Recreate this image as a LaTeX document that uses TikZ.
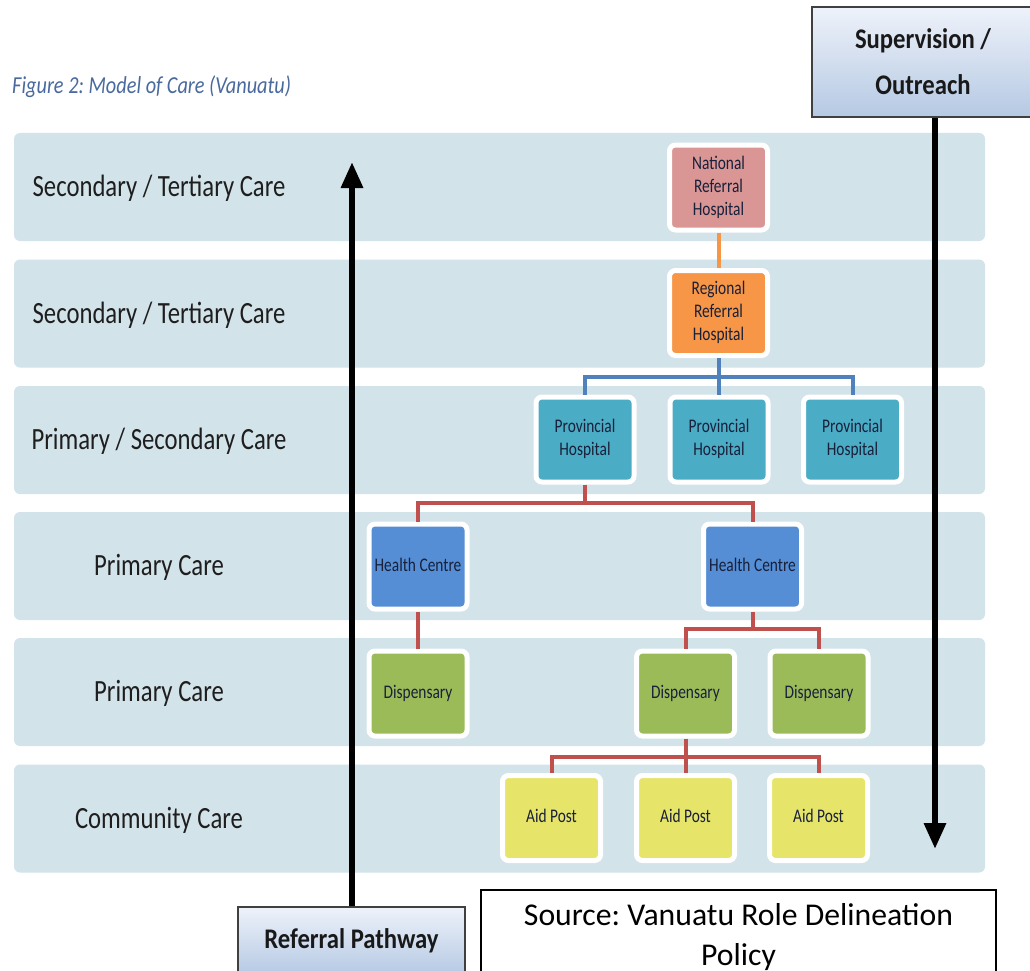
\documentclass[tikz,border=0pt]{standalone}
\usepackage{fontspec}
\setmainfont{Carlito}
\usetikzlibrary{arrows.meta}
\definecolor{bandc}{HTML}{D2E3EA}
\definecolor{natc}{HTML}{D99694}
\definecolor{regc}{HTML}{F79646}
\definecolor{provc}{HTML}{4BACC6}
\definecolor{hcc}{HTML}{558ED5}
\definecolor{dispc}{HTML}{9BBB59}
\definecolor{aidc}{HTML}{E6E56A}
\definecolor{lorange}{HTML}{F79646}
\definecolor{lblue}{HTML}{4F81BD}
\definecolor{lred}{HTML}{C0504D}
\definecolor{titlec}{HTML}{4A6A9E}
\definecolor{labtext}{HTML}{1E1E1E}
\definecolor{nodetext}{HTML}{18203A}
\definecolor{boxtop}{HTML}{EEF2FA}
\definecolor{boxbot}{HTML}{B5C9E3}
\newcommand{\stv}[1]{\scalebox{1}[1.25]{\begin{tabular}{@{}c@{}}#1\end{tabular}}}
\frenchspacing
\begin{document}
\begin{tikzpicture}[x=1pt,y=-1pt,
  bandbox/.style={fill=bandc, rounded corners=6pt},
  rowlab/.style={font=\fontsize{24.7}{30}\selectfont, text=labtext, inner sep=0pt},
  unit/.style={rectangle, rounded corners=6pt, draw=white, line width=5pt,
    minimum width=98pt, minimum height=85pt, inner sep=0pt, align=center,
    font=\fontsize{15.4}{18.5}\selectfont, text=nodetext},
  conn/.style={line width=4pt},
  bigarrow/.style={line width=6pt, -{Triangle[width=21pt,length=26pt]}},
  gradbox/.style={rectangle, draw=black!75, line width=2.5pt, top color=boxtop,
    bottom color=boxbot, inner sep=0pt, font=\bfseries\fontsize{24.7}{30}\selectfont,
    text=black!90, align=center}]
\useasboundingbox (0,0) rectangle (1030,971);
\fill[white] (0,0) rectangle (1030,971);

% title
\node[anchor=west, inner sep=0pt, text=titlec, font=\itshape\fontsize{20.3}{24}\selectfont]
  (title) at (12,87) {\scalebox{1}[1.2]{Figure 2: Model of Care (Vanuatu)}};

% bands
\foreach \yc in {187,313.5,440,566,692,818.5}{
  \fill[bandbox] (14,\yc-54) rectangle (985,\yc+54);
}
\node[rowlab] (l1) at (159,189) {\stv{Secondary / Tertiary Care}};
\node[rowlab] (l2) at (159,315.5) {\stv{Secondary / Tertiary Care}};
\node[rowlab] (l3) at (159,442) {\stv{Primary / Secondary Care}};
\node[rowlab] (l4) at (159,568) {\stv{Primary Care}};
\node[rowlab] (l5) at (159,694) {\stv{Primary Care}};
\node[rowlab] (l6) at (159,820.5) {\stv{Community Care}};

% units
\node[unit, fill=natc] (nat) at (718.5,187.5) {\stv{National\\Referral\\Hospital}};
\node[unit, fill=regc] (reg) at (718.5,313) {\stv{Regional\\Referral\\Hospital}};
\node[unit, fill=provc] (p1) at (585,439.5) {\stv{Provincial\\Hospital}};
\node[unit, fill=provc] (p2) at (719,439.5) {\stv{Provincial\\Hospital}};
\node[unit, fill=provc] (p3) at (852.5,439.5) {\stv{Provincial\\Hospital}};
\node[unit, fill=hcc] (h1) at (418,566.5) {\stv{Health Centre}};
\node[unit, fill=hcc] (h2) at (752.5,566.5) {\stv{Health Centre}};
\node[unit, fill=dispc] (d1) at (418,693.5) {\stv{Dispensary}};
\node[unit, fill=dispc] (d2) at (685.5,693.5) {\stv{Dispensary}};
\node[unit, fill=dispc] (d3) at (819,693.5) {\stv{Dispensary}};
\node[unit, fill=aidc] (a1) at (551.5,818) {\stv{Aid Post}};
\node[unit, fill=aidc] (a2) at (685.5,818) {\stv{Aid Post}};
\node[unit, fill=aidc] (a3) at (818.5,818) {\stv{Aid Post}};

% connectors
\draw[conn, lorange] (nat.south) -- (reg.north);
\coordinate (b1) at (718.5,377);
\draw[conn, lblue] (reg.south) -- (b1) -| (p1.north);
\draw[conn, lblue] (b1) -| (p3.north);
\draw[conn, lblue] (b1) -| (p2.north);
\coordinate (b2) at (585,503);
\draw[conn, lred] (p1.south) -- (b2) -| (h1.north);
\draw[conn, lred] (b2) -| (h2.north);
\draw[conn, lred] (h1.south) -- (d1.north);
\coordinate (b3) at (752.5,629);
\draw[conn, lred] (h2.south) -- (b3) -| (d2.north);
\draw[conn, lred] (b3) -| (d3.north);
\coordinate (b4) at (685.5,757);
\draw[conn, lred] (d2.south) -- (b4) -| (a1.north);
\draw[conn, lred] (b4) -| (a3.north);
\draw[conn, lred] (b4) -| (a2.north);

% side boxes
\node[gradbox, minimum width=222pt, minimum height=110pt] (sup) at (923,62)
  {\scalebox{1}[1.15]{Supervision /}\\[16pt]\scalebox{1}[1.15]{Outreach}};
\node[gradbox, minimum width=227pt, minimum height=68pt] (ref) at (351.5,941)
  {\scalebox{1}[1.15]{Referral Pathway}};
\node[rectangle, draw=black, line width=2pt, fill=white, minimum width=515pt,
  minimum height=85pt, inner sep=0pt, align=center,
  font=\fontsize{31.7}{40}\selectfont] (src) at (738.5,932)
  {\raisebox{-5pt}[\height][\depth]{\begin{tabular}{@{}c@{}}Source: Vanuatu Role Delineation\\Policy\end{tabular}}};

% arrows
\coordinate (reftip) at (352,162);
\draw[bigarrow] (ref.north -| reftip) -- (reftip);
\coordinate (suptip) at (935,849);
\draw[bigarrow] (sup.south -| suptip) -- (suptip);
\end{tikzpicture}
\end{document}
